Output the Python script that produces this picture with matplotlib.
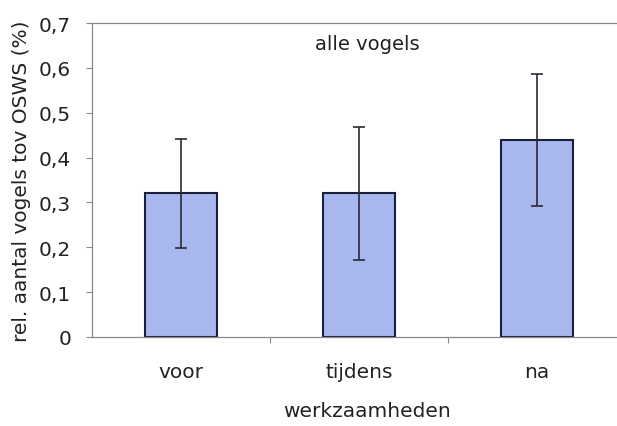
import matplotlib.pyplot as plt

# gegevens
categories = ['voor', 'tijdens', 'na']
values = [0.32, 0.32, 0.44]
errors = [0.122, 0.148, 0.147]
y_ticks = [0, 0.1, 0.2, 0.3, 0.4, 0.5, 0.6, 0.7]
y_ticklabels = ['0', '0,1', '0,2', '0,3', '0,4', '0,5', '0,6', '0,7']

plt.rcParams['font.family'] = ['DejaVu Sans']
text_col = '#222222'
axis_col = '#8a8a8a'

fig = plt.figure(figsize=(6.17, 4.27), dpi=100)
ax = fig.add_axes([92 / 617, 1 - 338 / 427, 1 - 92 / 617, (338 - 24) / 427])

x = list(range(len(categories)))
ax.bar(x, values, width=0.4, color='#a8b7ee', edgecolor='#1c1f3a', linewidth=1.5, zorder=2)
ax.errorbar(x, values, yerr=errors, fmt='none', ecolor='#2a2a35', elinewidth=1.2,
            capsize=4.5, capthick=1.2, zorder=3)

ax.set_xlim(-0.5, -0.5 + (617 - 92) / 178)
ax.set_ylim(0, 0.7)

ax.set_yticks(y_ticks)
ax.set_yticklabels(y_ticklabels)
ax.set_xticks(x)
ax.set_xticklabels(categories)
ax.set_xticks([0.5, 1.5], minor=True)

ax.tick_params(axis='y', direction='out', length=4, width=0.8, color=axis_col,
               pad=11, labelsize=14.5, labelcolor=text_col)
ax.tick_params(axis='x', which='major', length=0, pad=18, labelsize=14.5, labelcolor=text_col)
ax.tick_params(axis='x', which='minor', direction='out', length=4, width=0.8, color=axis_col)

for side in ['left', 'bottom', 'top']:
    ax.spines[side].set_color(axis_col)
    ax.spines[side].set_linewidth(0.9)
ax.spines['right'].set_visible(False)

ax.set_ylabel('rel. aantal vogels tov OSWS (%)', fontsize=14.5, color=text_col)
ax.yaxis.set_label_coords(-(92 - 31) / 525, 0.5)
ax.set_xlabel('werkzaamheden', fontsize=14.5, color=text_col)
ax.xaxis.set_label_coords((367 - 92) / 525, -(412 - 338) / 314)
ax.xaxis.label.set_va('center')

ax.text((367 - 92) / 525, (338 - 45) / 314, 'alle vogels', transform=ax.transAxes,
        ha='center', va='center', fontsize=14, color=text_col)

plt.savefig('out.png', dpi=100)
